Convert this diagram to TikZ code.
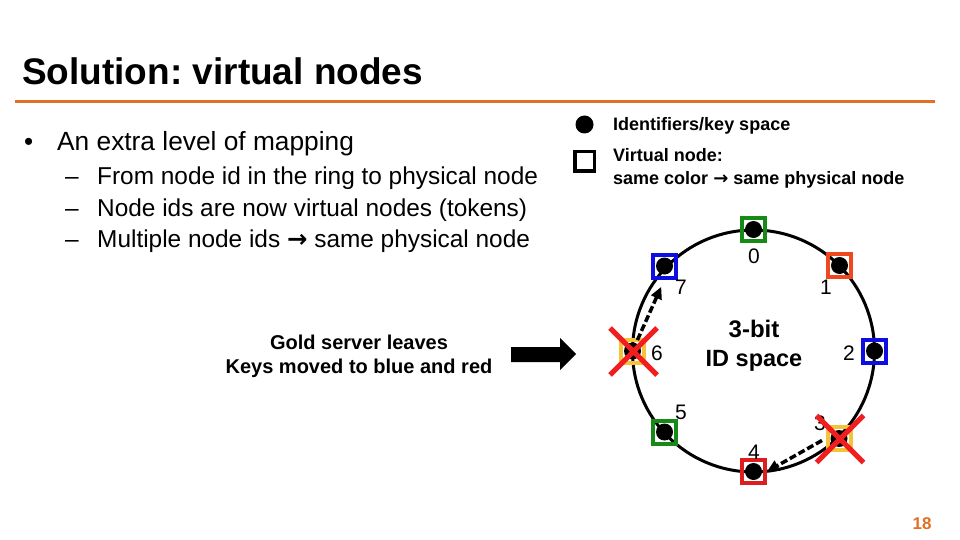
\documentclass[tikz,border=0pt]{standalone}
\usepackage{fontspec}
\setmainfont{Liberation Sans}
\newfontfamily\dejavu{DejaVu Sans}
\usetikzlibrary{arrows.meta,shapes.misc}
\frenchspacing
\definecolor{corange}{RGB}{224,112,36}
\definecolor{cgreen}{RGB}{22,138,22}
\definecolor{cblue}{RGB}{14,14,224}
\definecolor{cred}{RGB}{220,30,30}
\definecolor{cred2}{RGB}{238,72,30}
\definecolor{cgold}{RGB}{245,194,60}
\definecolor{cx}{RGB}{240,30,30}
\begin{document}
\begin{tikzpicture}[x=1pt,y=-1pt,
  txt/.style={anchor=base west, inner sep=0pt},
  fs/.style={font=\fontsize{#1}{#1}\selectfont},
  fsb/.style={font=\fontsize{#1}{#1}\selectfont\bfseries},
  vsq/.style={draw=#1, line width=4pt, minimum size=23pt, inner sep=0pt},
  dotst/.style={circle, fill=black, inner sep=0pt, minimum size=17pt},
  ringlbl/.style={inner sep=0pt, font=\fontsize{21}{21}\selectfont},
  xmark/.style={cross out, draw=cx, line width=5pt, minimum size=42pt, inner sep=0pt},
  dasharr/.style={line width=3.5pt, dash pattern=on 7pt off 3pt, -{Triangle[length=12pt,width=11pt]}},
]
\useasboundingbox (0,0) rectangle (960,540);
\fill[white] (0,0) rectangle (960,540);

% title
\node[txt, fsb=37] (title) at (22,85) {Solution: virtual nodes};
\draw[corange, line width=3pt] (15,102) -- (935,102);

% bullets
\node[txt, fs=26] (b0) at (24,151) {•};
\node[txt, fs=26.3] (t0) at (57,151) {An extra level of mapping};
\node[txt, fs=24.4] (d1) at (65,185) {–};
\node[txt, fs=24.4] (t1) at (97,185) {From node id in the ring to physical node};
\node[txt, fs=24.4] (d2) at (65,216) {–};
\node[txt, fs=24.4] (t2) at (97,216) {Node ids are now virtual nodes (tokens)};
\node[txt, fs=24.4] (d3) at (65,247) {–};
\node[txt, fs=24.4] (t3) at (97,247) {Multiple node ids {\dejavu\bfseries →} same physical node};

% legend
\node[dotst, minimum size=18pt] (ldot) at (584.5,124.5) {};
\node[vsq=black, line width=3.5pt, minimum size=19.5pt] (lsq) at (584.5,161.5) {};
\node[txt, fsb=18] (l1) at (613,131) {Identifiers/key space};
\node[txt, fsb=18] (l2) at (613,162) {Virtual node:};
\node[txt, fsb=18] (l3) at (613,184) {same color {\dejavu\bfseries →} same physical node};

% gold server text and big arrow
\node[anchor=base, inner sep=0pt, fsb=20] (g1) at (359,349) {Gold server leaves};
\node[anchor=base, inner sep=0pt, fsb=20] (g2) at (359,373) {Keys moved to blue and red};
\fill[black] (511,347) -- (560,347) -- (560,338) -- (576,354) -- (560,370) -- (560,362) -- (511,362) -- cycle;

% ring
\node[circle, draw=black, line width=3pt, minimum size=242pt, inner sep=0pt] (ring) at (753.5,351) {};
\node[anchor=base, inner sep=0pt, fsb=24] (r1) at (754,337.5) {3-bit};
\node[anchor=base, inner sep=0pt, fsb=23.5] (r2) at (754,366) {ID space};

% virtual nodes
\node[vsq=cgreen] (n0) at (753.5,229.5) {};
\node[vsq=cred2]  (n1) at (839.5,265.5) {};
\node[vsq=cblue]  (n2) at (874.5,351) {};
\node[vsq=cgold]  (n3) at (839,438.5) {};
\node[vsq=cred]   (n4) at (753.5,471.5) {};
\node[vsq=cgreen] (n5) at (664.5,432) {};
\node[vsq=cgold]  (n6) at (632.5,351) {};
\node[vsq=cblue]  (n7) at (664.5,266) {};
\foreach \n in {n0,n1,n2,n3,n4,n5,n6,n7} \node[dotst] at (\n) {};

% ring labels
\node[ringlbl] (k0) at (754,256) {0};
\node[ringlbl] (k1) at (826,287) {1};
\node[ringlbl] (k2) at (849,353) {2};
\node[ringlbl] (k3) at (820,423) {3};
\node[ringlbl] (k4) at (754,452) {4};
\node[ringlbl] (k5) at (681,412) {5};
\node[ringlbl] (k6) at (657,353) {6};
\node[ringlbl] (k7) at (681,287) {7};

% key moves
\draw[dasharr, shorten <=12pt, shorten >=8pt] (n6.center) -- (n7.south);
\draw[dasharr, shorten <=4pt] (n3.west) -- (n4.east);

% removed server
\node[xmark] (x6) at (633.5,351.5) {};
\node[xmark] (x3) at (840,439) {};

% page number
\node[inner sep=0pt, fsb=17, text=corange] (pg) at (922,524) {18};
\end{tikzpicture}
\end{document}
